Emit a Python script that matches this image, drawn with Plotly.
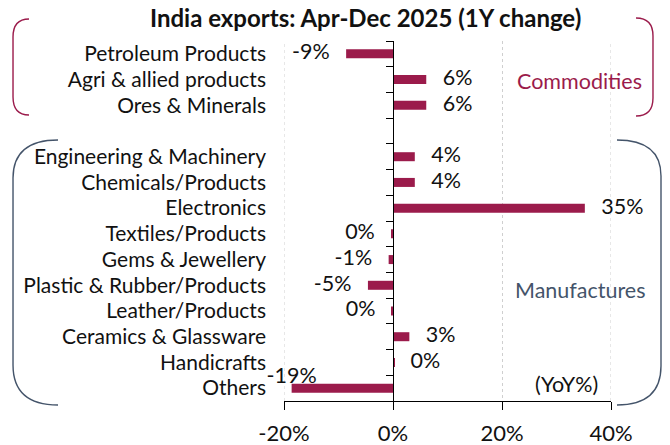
import plotly.graph_objects as go

# ---------------- data ----------------
categories = [
    "Petroleum Products", "Agri & allied products", "Ores & Minerals", " ",
    "Engineering & Machinery", "Chemicals/Products", "Electronics",
    "Textiles/Products", "Gems & Jewellery", "Plastic & Rubber/Products",
    "Leather/Products", "Ceramics & Glassware", "Handicrafts", "Others",
]
yoy_change = [-8.6, 6.1, 6.1, None, 4.0, 4.0, 35.2, -0.3, -0.8, -4.6, -0.2, 3.0, 0.2, -18.6]
x_tick_values = [-20, 0, 20, 40]
x_tick_labels = ["-20%", "0%", "20%", "40%"]

title_text = "India exports: Apr-Dec 2025 (1Y change)"
group_labels = ["Commodities", "Manufactures"]
unit_label = "(YoY%)"

# ---------------- styles ----------------
CRIMSON = "#9B1B4B"
SLATE = "#44546A"
FONT = "Lato"
NBSP = "\u00a0"

# plot-area pixel box (used only for decorations)
L, R, T, B = 284, 611, 41, 401
W, H = 670, 445


def px(x):
    return (x - L) / (R - L)


def py(y):
    return (B - y) / (B - T)


def path(points):
    s = ""
    for cmd, pts in points:
        s += cmd + " " + " ".join(f"{px(a):.4f},{py(b):.4f}" for a, b in pts) + " "
    return s.strip()


labels, positions = [], []
for cat, v in zip(categories, yoy_change):
    if v is None:
        labels.append("")
        positions.append("middle right")
        continue
    txt = f"{int(round(v))}%"
    if cat == "Others":
        labels.append(txt)
        positions.append("top center")
    elif v >= 0:
        labels.append(NBSP * 3 + txt)
        positions.append("middle right")
    else:
        labels.append(txt + NBSP * 3)
        positions.append("middle left")

n_cat = len(categories)

fig = go.Figure()

fig.add_trace(go.Bar(
    x=yoy_change, y=categories, orientation="h",
    marker=dict(color=CRIMSON, line=dict(width=0)),
    showlegend=False, hoverinfo="skip",
))

fig.add_trace(go.Scatter(
    x=[v if v is not None else 0 for v in yoy_change], y=categories,
    mode="text", text=labels, textposition=positions,
    textfont=dict(family=FONT, size=21.5, color="#111111"),
    cliponaxis=False, showlegend=False, hoverinfo="skip",
))

fig.add_trace(go.Scatter(
    x=[0] * n_cat, y=categories, yaxis="y2",
    mode="markers", marker=dict(opacity=0, size=1), showlegend=False, hoverinfo="skip",
))

shapes = [
    dict(type="path", xref="paper", yref="paper",
         path=path([("M", [(29, 19)]), ("Q", [(13, 19), (13, 37)]),
                    ("L", [(13, 97)]), ("Q", [(13, 115), (29, 115)])]),
         line=dict(color=CRIMSON, width=1.4)),
    dict(type="path", xref="paper", yref="paper",
         path=path([("M", [(636, 18)]), ("Q", [(653, 18), (653, 36)]),
                    ("L", [(653, 98)]), ("Q", [(653, 116), (636, 116)])]),
         line=dict(color=CRIMSON, width=1.4)),
    dict(type="path", xref="paper", yref="paper",
         path=path([("M", [(58, 140)]), ("Q", [(13, 140), (13, 178)]),
                    ("L", [(13, 365)]), ("Q", [(13, 405), (58, 405)])]),
         line=dict(color=SLATE, width=1.4)),
    dict(type="path", xref="paper", yref="paper",
         path=path([("M", [(617, 140)]), ("Q", [(661, 140), (661, 176)]),
                    ("L", [(661, 366)]), ("Q", [(661, 405), (617, 405)])]),
         line=dict(color=SLATE, width=1.4)),
]
for xv in (x_tick_values[0], x_tick_values[-1]):
    shapes.append(dict(type="line", xref="x", yref="paper", x0=xv, x1=xv, y0=0, y1=1,
                       line=dict(color="#cfcfcf", width=1, dash="dot"), layer="below"))

annotations = [
    dict(text=f"<b>{title_text}</b>", xref="paper", yref="paper",
         x=px(365), y=py(17), xanchor="center", yanchor="middle", showarrow=False,
         font=dict(family=FONT, size=24, color="#111111")),
    dict(text=group_labels[0], xref="paper", yref="paper",
         x=px(579), y=py(81), xanchor="center", yanchor="middle", showarrow=False,
         font=dict(family=FONT, size=21.5, color=CRIMSON)),
    dict(text=group_labels[1], xref="paper", yref="paper",
         x=px(580), y=py(290), xanchor="center", yanchor="middle", showarrow=False,
         font=dict(family=FONT, size=21.5, color=SLATE)),
    dict(text=unit_label, xref="paper", yref="paper",
         x=px(566), y=py(384), xanchor="center", yanchor="middle", showarrow=False,
         font=dict(family=FONT, size=21.5, color="#111111")),
]

fig.update_layout(
    width=W, height=H,
    margin=dict(l=L, r=W - R, t=T, b=H - B, pad=0),
    paper_bgcolor="white", plot_bgcolor="white",
    font=dict(family=FONT, size=21, color="#111111"),
    bargap=0.65,
    shapes=shapes, annotations=annotations,
    xaxis=dict(
        range=[-20, 40], tickmode="array", tickvals=x_tick_values, ticktext=x_tick_labels,
        showgrid=True, gridcolor="#cfcfcf", griddash="dot", gridwidth=1,
        zeroline=False, showline=True, linecolor="black", linewidth=1.3,
        ticks="outside", ticklen=8, tickcolor="black", tickwidth=1.3,
        ticklabelstandoff=4, automargin=False,
        tickfont=dict(family=FONT, size=22, color="#111111"),
        fixedrange=True,
    ),
    yaxis=dict(
        type="category", categoryorder="array", categoryarray=categories,
        tickmode="array", tickvals=categories, ticktext=categories,
        range=[n_cat - 0.5, -0.5], autorange=False,
        showgrid=False, zeroline=False, showline=False,
        ticks="", ticklabelstandoff=17, automargin=False,
        tickfont=dict(family=FONT, size=21, color="#111111"),
        fixedrange=True,
    ),
    yaxis2=dict(
        type="category", categoryorder="array", categoryarray=categories,
        overlaying="y", matches="y", anchor="free", position=1 / 3,
        tickmode="linear", dtick=1,
        showgrid=False, zeroline=False, showline=True, linecolor="black", linewidth=1.3,
        ticks="outside", tickson="boundaries", ticklen=7, tickcolor="black", tickwidth=1.3,
        showticklabels=False, automargin=False, fixedrange=True,
    ),
)

fig.write_html(
    "out.html",
    config={"displayModeBar": False},
    post_script="document.body.style.margin='0';document.body.style.overflow='hidden';",
)
